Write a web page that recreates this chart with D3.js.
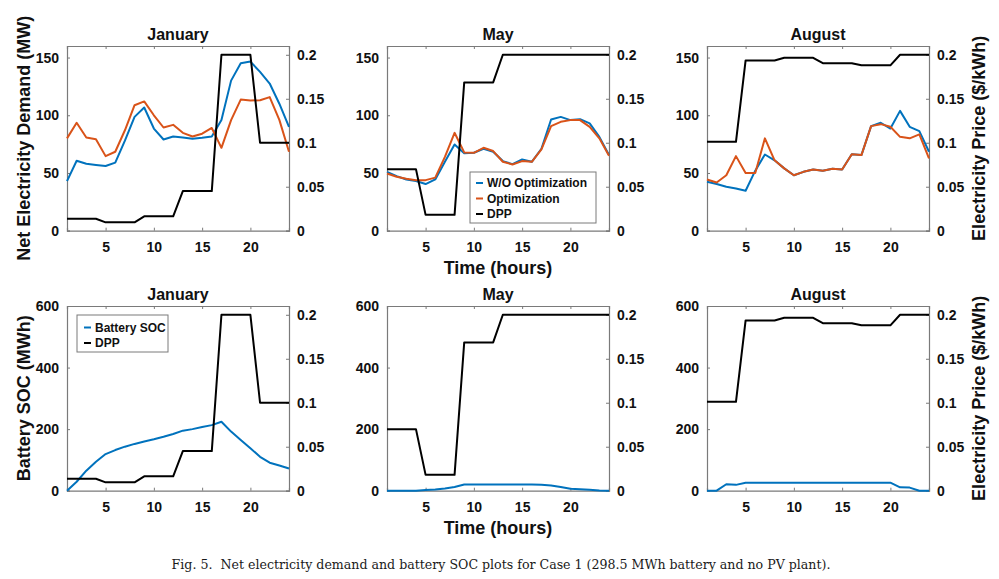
<!DOCTYPE html>
<html>
<head>
<meta charset="utf-8">
<script src="https://cdn.jsdelivr.net/npm/d3@7"></script>
<style>
  html, body { margin: 0; padding: 0; background: #fff; }
  svg { display: block; }
</style>
</head>
<body>
<svg id="chart" width="999" height="579"></svg>
<script>
// ---------------- DATA ----------------
const hours = [1,2,3,4,5,6,7,8,9,10,11,12,13,14,15,16,17,18,19,20,21,22,23,24];
const months = ["January", "May", "August"];

const janWO  = [43,60.6,58,57,56,59,78,98.6,106.7,88.5,79,81.6,80.8,79.6,80.5,81.6,95.8,130,145,146.5,137.6,127.5,110,90];
const janOpt = [80,93.5,80.8,79.3,64.6,68.4,87,108.7,112,100,89.4,91.7,84.8,81.6,84,89,71.8,95.8,113.6,112.8,113,115.7,96,68.4];
const janDPP = [0.0136,0.0136,0.0136,0.0136,0.0095,0.0095,0.0095,0.0095,0.0163,0.0163,0.0163,0.0163,0.045,0.045,0.045,0.045,0.2,0.2,0.2,0.2,0.1,0.1,0.1,0.1];
const janSOC = [0,29,65,94,119,132,143,152,160,167,175,184,195,200,207,213,224,192,165,138,110,91,82,72];

const mayWO  = [51,47.3,44.4,43,40.4,44.4,59.7,74.7,67,67.5,71,68.4,60.3,57.7,61.7,59.7,71,96.3,98.6,95.8,96.6,92.9,81.3,65.5];
const mayOpt = [49.6,46.7,45,43.8,43.8,46,64,84.8,67.8,67.5,71.8,69,59.7,57.4,60.3,59.7,70.4,90.6,94.3,95.8,95.8,90,80,65];
const mayDPP = [0.07,0.07,0.07,0.07,0.018,0.018,0.018,0.018,0.1686,0.1686,0.1686,0.1686,0.2,0.2,0.2,0.2,0.2,0.2,0.2,0.2,0.2,0.2,0.2,0.2];
const maySOC = [0,0,0,0,2,4,7,12,20,20,20,20,20,20,20,20,19,17,12,6,5,3,1,0];

const augWO  = [42.4,40.4,38,36.6,34.6,52,66,61,54,48,51,53,52,53.6,53,66.3,65.5,90.6,93.5,88.5,103.8,90,86.2,68.4];
const augOpt = [44.4,41.8,48,64.6,50,50,80,61,54,48,51,53,52,53.6,53,66.3,65.5,90.6,92.3,90,81.3,80,83.4,62.6];
const augDPP = [0.101,0.101,0.101,0.101,0.1936,0.1936,0.1936,0.1936,0.1966,0.1966,0.1966,0.1966,0.1905,0.1905,0.1905,0.1905,0.188,0.188,0.188,0.188,0.2,0.2,0.2,0.2];
const augSOC = [0,0,21,19,26,26,26,26,26,26,26,26,26,26,26,26,26,26,26,26,11,10,0,0];

const xTicks = [5,10,15,20];
const demandTicks = [0,50,100,150];
const socTicks = [0,200,400,600];
const priceTicks = [0,0.05,0.1,0.15,0.2];
const priceTickLabels = ["0","0.05","0.1","0.15","0.2"];

const legendTop = ["W/O Optimization","Optimization","DPP"];
const legendBottom = ["Battery SOC","DPP"];

const caption = "Fig. 5.  Net electricity demand and battery SOC plots for Case 1 (298.5 MWh battery and no PV plant).";

// ---------------- STYLE / LAYOUT ----------------
const BLUE = "#0072BD", ORANGE = "#D95319", BLACK = "#000000", AXIS = "#7a7a7a";
const FONT = "'Liberation Sans', Arial, Helvetica, sans-serif";
const colX = [67, 387, 707];
const plotW = 222;
const rowY = [46, 306];
const plotH = 184.7;

const svg = d3.select("#chart");
svg.append("rect").attr("width", 999).attr("height", 579).attr("fill", "#fff");

const topData = [
  {wo: janWO, opt: janOpt, dpp: janDPP},
  {wo: mayWO, opt: mayOpt, dpp: mayDPP},
  {wo: augWO, opt: augOpt, dpp: augDPP}
];
const botData = [
  {soc: janSOC, dpp: janDPP},
  {soc: maySOC, dpp: mayDPP},
  {soc: augSOC, dpp: augDPP}
];

function panel(col, row, leftMax, leftTicks, series, dpp, legend) {
  const x0 = colX[col], y0 = rowY[row];
  const g = svg.append("g").attr("transform", `translate(${x0},${y0})`);
  const x = d3.scaleLinear().domain([1, 24]).range([0, plotW]);
  const yL = d3.scaleLinear().domain([0, leftMax]).range([plotH, 0]);
  const yR = d3.scaleLinear().domain([0, 0.21]).range([plotH, 0]);

  // title
  g.append("text").attr("x", plotW / 2).attr("y", -6)
    .attr("text-anchor", "middle").attr("font-family", FONT)
    .attr("font-weight", "bold").attr("font-size", 16).attr("fill", "#111")
    .text(months[col]);

  // axes (inward ticks)
  const axB = d3.axisBottom(x).tickValues(xTicks).tickSize(-3).tickPadding(8);
  const axT = d3.axisTop(x).tickValues(xTicks).tickSize(-3).tickFormat("");
  const axL = d3.axisLeft(yL).tickValues(leftTicks).tickSize(-3).tickPadding(8);
  const axR = d3.axisRight(yR).tickValues(priceTicks).tickSize(-3).tickPadding(8)
    .tickFormat((d, i) => priceTickLabels[i]);

  function styleAxis(sel) {
    sel.select(".domain").attr("stroke", AXIS).attr("stroke-width", 1.2);
    sel.selectAll(".tick line").attr("stroke", AXIS);
    sel.selectAll(".tick text").attr("font-family", FONT).attr("font-weight", "bold")
      .attr("font-size", 14).attr("fill", "#111");
  }
  g.append("g").attr("transform", `translate(0,${plotH})`).call(axB).call(styleAxis)
    .selectAll(".tick text").attr("dy", "0.95em");
  g.append("g").call(axT).call(styleAxis);
  g.append("g").call(axL).call(styleAxis);
  g.append("g").attr("transform", `translate(${plotW},0)`).call(axR).call(styleAxis);

  // lines
  const lineL = d3.line().x((d, i) => x(hours[i])).y(d => yL(d));
  const lineR = d3.line().x((d, i) => x(hours[i])).y(d => yR(d));
  series.forEach(s => {
    g.append("path").datum(s.values).attr("d", lineL).attr("fill", "none")
      .attr("stroke", s.color).attr("stroke-width", 2).attr("stroke-linejoin", "round");
  });
  g.append("path").datum(dpp).attr("d", lineR).attr("fill", "none")
    .attr("stroke", BLACK).attr("stroke-width", 2).attr("stroke-linejoin", "round");

  if (legend) {
    const lg = svg.append("g").attr("transform", `translate(${legend.x},${legend.y})`);
    lg.append("rect").attr("width", legend.w).attr("height", legend.h)
      .attr("fill", "#fff").attr("stroke", AXIS).attr("stroke-width", 1);
    legend.items.forEach((it, i) => {
      const cy = legend.first + i * legend.step;
      lg.append("line").attr("x1", legend.lx).attr("x2", legend.lx + 7)
        .attr("y1", cy).attr("y2", cy).attr("stroke", it.color).attr("stroke-width", 2);
      lg.append("text").attr("x", legend.lx + 11).attr("y", cy)
        .attr("dominant-baseline", "central").attr("font-family", FONT)
        .attr("font-weight", "bold").attr("font-size", 12).attr("fill", "#111")
        .text(it.label);
    });
  }
}

topData.forEach((d, c) => {
  panel(c, 0, 160, demandTicks,
    [{values: d.wo, color: BLUE}, {values: d.opt, color: ORANGE}], d.dpp,
    c === 1 ? {x: 470, y: 172, w: 126, h: 51, lx: 6, first: 11, step: 15.5,
      items: [{label: legendTop[0], color: BLUE}, {label: legendTop[1], color: ORANGE}, {label: legendTop[2], color: BLACK}]} : null);
});
botData.forEach((d, c) => {
  panel(c, 1, 600, socTicks, [{values: d.soc, color: BLUE}], d.dpp,
    c === 0 ? {x: 77, y: 315, w: 91, h: 37, lx: 7, first: 12.5, step: 15.5,
      items: [{label: legendBottom[0], color: BLUE}, {label: legendBottom[1], color: BLACK}]} : null);
});

// axis titles
function vtitle(x, y, txt) {
  svg.append("text").attr("transform", `translate(${x},${y}) rotate(-90)`)
    .attr("text-anchor", "middle").attr("font-family", FONT).attr("font-weight", "bold")
    .attr("font-size", 18).attr("fill", "#111").text(txt);
}
vtitle(30, rowY[0] + plotH / 2, "Net Electricity Demand (MW)");
vtitle(30, rowY[1] + plotH / 2, "Battery SOC (MWh)");
vtitle(985, rowY[0] + plotH / 2, "Electricity Price ($/kWh)");
vtitle(985, rowY[1] + plotH / 2, "Electricity Price ($/kWh)");

[0, 1].forEach(r => {
  svg.append("text").attr("x", colX[1] + plotW / 2).attr("y", rowY[r] + plotH + 43)
    .attr("text-anchor", "middle").attr("font-family", FONT).attr("font-weight", "bold")
    .attr("font-size", 18).attr("fill", "#111").text("Time (hours)");
});

svg.append("text").attr("x", 501).attr("y", 569).attr("text-anchor", "middle")
  .attr("font-family", "'DejaVu Serif', 'Liberation Serif', serif")
  .attr("font-size", 12.6).attr("fill", "#1a1a1a").attr("xml:space", "preserve").text(caption);
</script>
</body>
</html>
